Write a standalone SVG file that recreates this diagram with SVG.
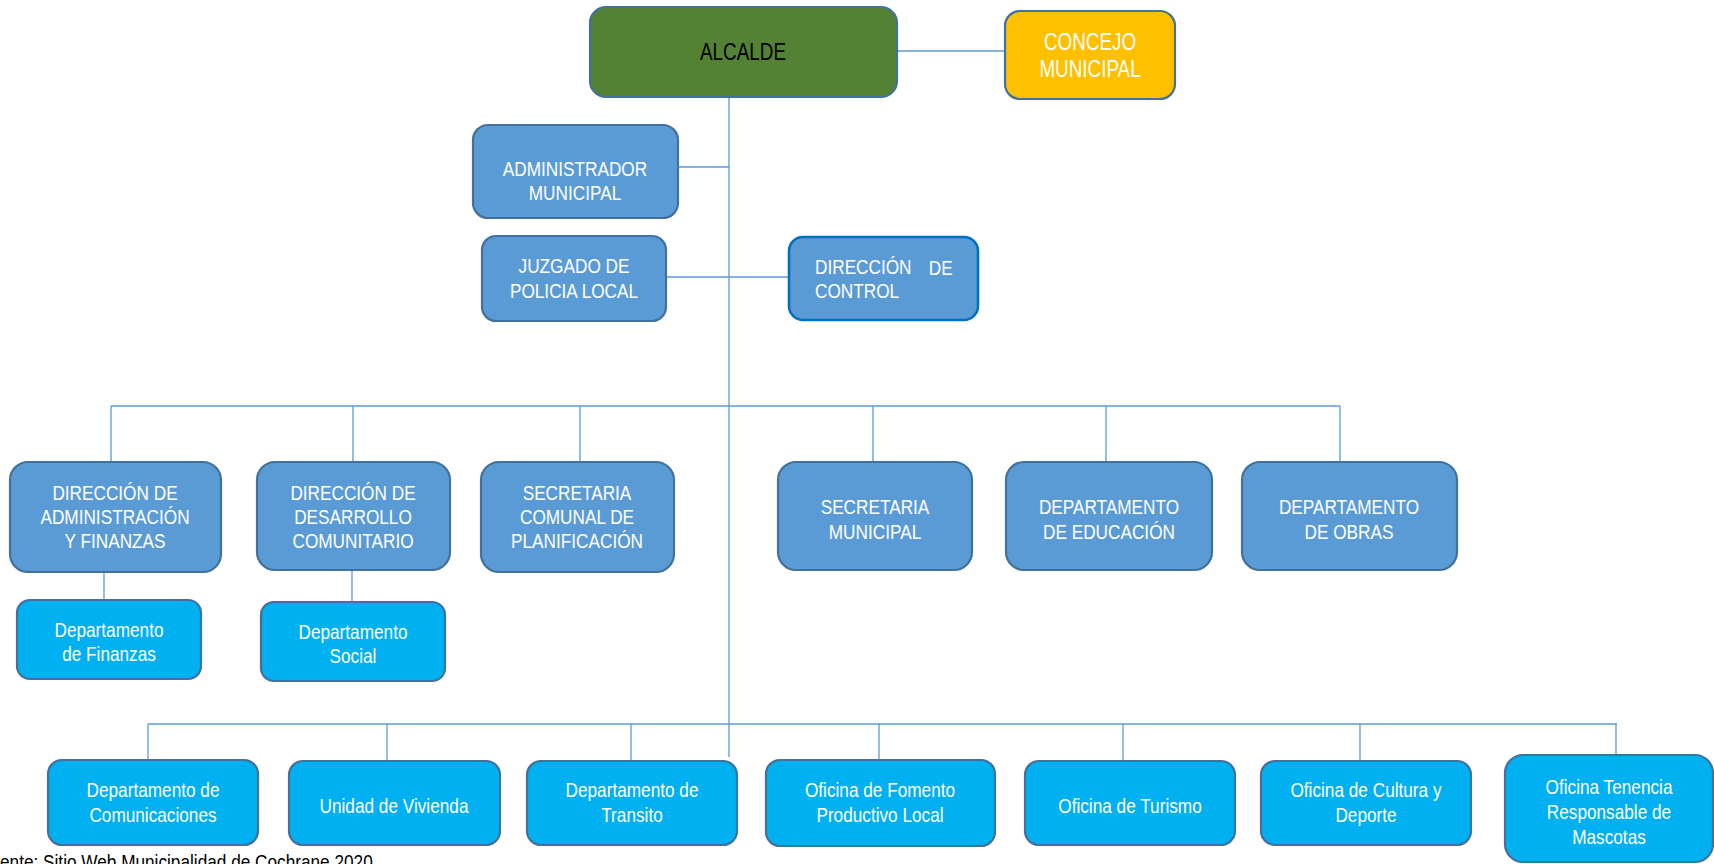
<svg xmlns="http://www.w3.org/2000/svg" width="1714" height="864" viewBox="0 0 1714 864">
<style>
.t{font-family:"Liberation Sans Narrow","Liberation Sans",Arial,sans-serif;font-size:21px;fill:#fff;text-anchor:middle;dominant-baseline:central}
.big{font-size:23px}
.blk{fill:#000}
.s{text-anchor:start}
.b1{fill:#5B9BD5;stroke:#41719C;stroke-width:2.2}
.b2{fill:#00B0F0;stroke:#41719C;stroke-width:2.2}
.c{stroke:#5B9BD5;stroke-width:1.3;fill:none}
.f{font-family:"Liberation Sans Narrow","Liberation Sans",Arial,sans-serif;font-size:21px;fill:#000}
</style>
<rect width="1714" height="864" fill="#fff"/>
<g id="connectors">
<path class="c" d="M897 51H1005"/>
<path class="c" d="M729 97V757"/>
<path class="c" d="M678 167H729"/>
<path class="c" d="M666 277H789"/>
<path class="c" d="M111 406H1340"/>
<path class="c" d="M111 406V462M353 406V462M580 406V462M873 406V462M1106 406V462M1340 406V462"/>
<path class="c" d="M104 572V600M352 570V602"/>
<path class="c" d="M148 724H1617"/>
<path class="c" d="M148 724V760M387 724V761M631 724V761M879 724V760M1123 724V761M1360 724V761M1616 724V755"/>
</g>
<g id="alcalde"><rect x="590" y="7" width="307" height="90" rx="16" fill="#548235" stroke="#41719C" stroke-width="2.2"/><g transform="translate(743 0) scale(0.82 1)"><text class="t big blk" x="0" y="52">ALCALDE</text></g></g>
<g id="concejo"><rect x="1005" y="11" width="170" height="88" rx="15" fill="#FFC000" stroke="#41719C" stroke-width="2.2"/><g transform="translate(1090 0) scale(0.82 1)"><text class="t big" x="0" y="42">CONCEJO</text><text class="t big" x="0" y="69">MUNICIPAL</text></g></g>
<g id="administrador"><rect class="b1" x="473" y="125" width="205" height="93" rx="15"/><g transform="translate(575 0) scale(0.82 1)"><text class="t" x="0" y="169">ADMINISTRADOR</text><text class="t" x="0" y="193">MUNICIPAL</text></g></g>
<g id="juzgado"><rect class="b1" x="482" y="236" width="184" height="85" rx="14"/><g transform="translate(574 0) scale(0.82 1)"><text class="t" x="0" y="266">JUZGADO DE</text><text class="t" x="0" y="291">POLICIA LOCAL</text></g></g>
<g id="control"><rect x="789" y="237" width="189" height="83" rx="14" fill="#5B9BD5" stroke="#0070C0" stroke-width="2.6"/><g transform="translate(815 0) scale(0.82 1)"><text class="t s" x="0" y="267">DIRECCIÓN <tspan x="168" style="text-anchor:end">DE</tspan></text><text class="t s" x="0" y="291">CONTROL</text></g></g>
<g id="dir-admin"><rect class="b1" x="10" y="462" width="211" height="110" rx="18"/><g transform="translate(115 0) scale(0.82 1)"><text class="t" x="0" y="493">DIRECCIÓN DE</text><text class="t" x="0" y="517">ADMINISTRACIÓN</text><text class="t" x="0" y="541">Y FINANZAS</text></g></g>
<g id="dir-desarrollo"><rect class="b1" x="257" y="462" width="193" height="108" rx="18"/><g transform="translate(353 0) scale(0.82 1)"><text class="t" x="0" y="493">DIRECCIÓN DE</text><text class="t" x="0" y="517">DESARROLLO</text><text class="t" x="0" y="541">COMUNITARIO</text></g></g>
<g id="secplan"><rect class="b1" x="481" y="462" width="193" height="110" rx="18"/><g transform="translate(577 0) scale(0.82 1)"><text class="t" x="0" y="493">SECRETARIA</text><text class="t" x="0" y="517">COMUNAL DE</text><text class="t" x="0" y="541">PLANIFICACIÓN</text></g></g>
<g id="secmun"><rect class="b1" x="778" y="462" width="194" height="108" rx="18"/><g transform="translate(875 0) scale(0.82 1)"><text class="t" x="0" y="507">SECRETARIA</text><text class="t" x="0" y="532">MUNICIPAL</text></g></g>
<g id="educacion"><rect class="b1" x="1006" y="462" width="206" height="108" rx="18"/><g transform="translate(1109 0) scale(0.82 1)"><text class="t" x="0" y="507">DEPARTAMENTO</text><text class="t" x="0" y="532">DE EDUCACIÓN</text></g></g>
<g id="obras"><rect class="b1" x="1242" y="462" width="215" height="108" rx="18"/><g transform="translate(1349 0) scale(0.82 1)"><text class="t" x="0" y="507">DEPARTAMENTO</text><text class="t" x="0" y="532">DE OBRAS</text></g></g>
<g id="finanzas"><rect class="b2" x="17" y="600" width="184" height="79" rx="13"/><g transform="translate(109 0) scale(0.82 1)"><text class="t" x="0" y="630">Departamento</text><text class="t" x="0" y="654">de Finanzas</text></g></g>
<g id="social"><rect class="b2" x="261" y="602" width="184" height="79" rx="13"/><g transform="translate(353 0) scale(0.82 1)"><text class="t" x="0" y="632">Departamento</text><text class="t" x="0" y="656">Social</text></g></g>
<g id="comunicaciones"><rect class="b2" x="48" y="760" width="210" height="85" rx="14"/><g transform="translate(153 0) scale(0.82 1)"><text class="t" x="0" y="790">Departamento de</text><text class="t" x="0" y="815">Comunicaciones</text></g></g>
<g id="vivienda"><rect class="b2" x="289" y="761" width="211" height="84" rx="14"/><g transform="translate(394 0) scale(0.82 1)"><text class="t" x="0" y="806">Unidad de Vivienda</text></g></g>
<g id="transito"><rect class="b2" x="527" y="761" width="210" height="84" rx="14"/><g transform="translate(632 0) scale(0.82 1)"><text class="t" x="0" y="790">Departamento de</text><text class="t" x="0" y="815">Transito</text></g></g>
<g id="fomento"><rect class="b2" x="766" y="760" width="229" height="86" rx="14"/><g transform="translate(880 0) scale(0.82 1)"><text class="t" x="0" y="790">Oficina de Fomento</text><text class="t" x="0" y="815">Productivo Local</text></g></g>
<g id="turismo"><rect class="b2" x="1025" y="761" width="210" height="84" rx="14"/><g transform="translate(1130 0) scale(0.82 1)"><text class="t" x="0" y="806">Oficina de Turismo</text></g></g>
<g id="cultura"><rect class="b2" x="1261" y="761" width="210" height="84" rx="14"/><g transform="translate(1366 0) scale(0.82 1)"><text class="t" x="0" y="790">Oficina de Cultura y</text><text class="t" x="0" y="815">Deporte</text></g></g>
<g id="mascotas"><rect class="b2" x="1505" y="755" width="208" height="107" rx="18"/><g transform="translate(1609 0) scale(0.82 1)"><text class="t" x="0" y="787">Oficina Tenencia</text><text class="t" x="0" y="812">Responsable de</text><text class="t" x="0" y="837">Mascotas</text></g></g>
<g transform="scale(0.82 1)"><text class="f" x="0" y="869">ente: Sitio Web Municipalidad de Cochrane 2020</text></g>
</svg>
